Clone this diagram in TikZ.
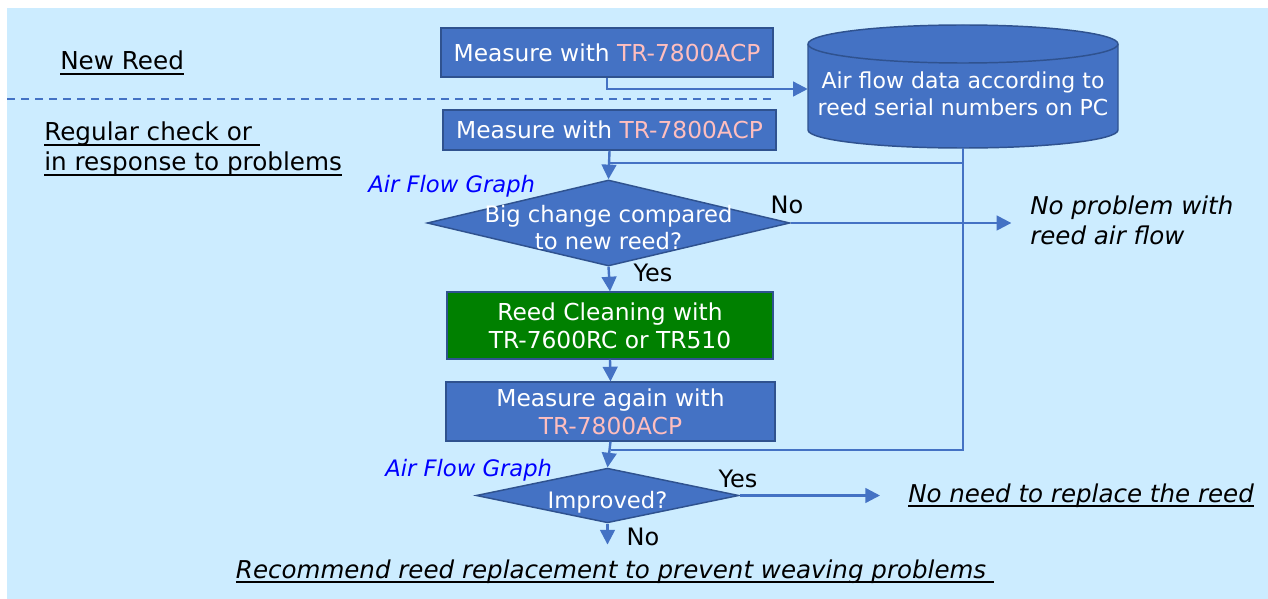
\documentclass[tikz,border=0pt]{standalone}
\usepackage{fontspec}
\setmainfont{DejaVu Sans}
\usepackage{xcolor}
\usetikzlibrary{arrows.meta,shapes.geometric}

\definecolor{bgblue}{RGB}{204,236,255}
\definecolor{boxblue}{RGB}{68,114,196}
\definecolor{edgeblue}{RGB}{47,82,143}
\definecolor{pinktext}{RGB}{255,190,190}
\definecolor{cleangreen}{RGB}{0,128,0}

\newsavebox{\ulsave}
\newcommand{\ulbox}[1]{\sbox{\ulsave}{#1}\rlap{\rule[-3.4pt]{\wd\ulsave}{1.2pt}}\usebox{\ulsave}}
\newcommand{\flattext}[1]{\makebox[0pt]{\smash{\raisebox{-0.6em}{\begin{tabular}{@{}c@{}}#1\end{tabular}}}}}

\tikzset{
  every node/.style={font=\fontsize{17.5}{21}\selectfont},
  stepbox/.style={draw=edgeblue, line width=1.1pt, fill=boxblue, text=white, align=center, inner sep=0pt},
  decision/.style={diamond, draw=edgeblue, line width=1.1pt, fill=boxblue, text=white, inner sep=0pt, font=\fontsize{17}{20}\selectfont},
  flow/.style={draw=boxblue, line width=1.8pt, -{Triangle[length=11pt,width=11pt]}},
  link/.style={draw=boxblue, line width=1.8pt},
  graphnote/.style={text=blue, font=\fontsize{17}{20}\selectfont\itshape, inner sep=0pt, anchor=base west},
  answer/.style={inner sep=0pt, font=\fontsize{18}{21}\selectfont},
  result/.style={font=\fontsize{18.4}{22.5}\selectfont\itshape, inner sep=0pt, align=left},
  sidenote/.style={font=\fontsize{18.5}{22.5}\selectfont, inner sep=0pt, align=left, anchor=base west}
}

\begin{document}
\begin{tikzpicture}[x=0.75pt,y=0.75pt,yscale=-1,xscale=1]

\useasboundingbox (0,0) rectangle (1268,599);

\fill[bgblue] (7,8) rectangle (1268,599);

\draw[boxblue, line width=1.1pt, dash pattern=on 6pt off 4.5pt] (7,99) -- (773,99);

\draw[draw=edgeblue, fill=boxblue, line width=1.1pt] (808,44) -- (808,130) arc[start angle=180, end angle=0, x radius=155, y radius=18] -- (1118,44) arc[start angle=0, end angle=-180, x radius=155, y radius=19] -- cycle;

\draw[draw=edgeblue, line width=1.1pt] (808,44) arc[start angle=180, end angle=0, x radius=155, y radius=19];

\node (newreed) at (60,70) [sidenote] {\ulbox{New Reed}};

\node (regular) at (44,171) [sidenote] {\ulbox{Regular check or\ }\\\ulbox{in response to problems}};

\node (m1) at (607,52.5) [stepbox, minimum width=249pt, minimum height=36.75pt] {Measure with \textcolor{pinktext}{TR-7800ACP}};

\node (db) at (963,89) [text=white, align=center, inner sep=0pt, minimum width=232.5pt, minimum height=88pt, font=\fontsize{16.5}{20}\selectfont] {\flattext{Air flow data according to\\reed serial numbers on PC}};

\node (m2) at (609.5,130) [stepbox, minimum width=250pt, minimum height=30pt] {Measure with \textcolor{pinktext}{TR-7800ACP}};

\node (d1) at (608.5,223) [decision, minimum width=272pt, minimum height=64.5pt] {\flattext{Big change compared\\to new reed?}};

\node (g1) at (368,193) [graphnote] {Air Flow Graph};

\node (clean) at (610,325.5) [stepbox, fill=cleangreen, minimum width=244.5pt, minimum height=50pt] {Reed Cleaning with\\TR-7600RC or TR510};

\node (m3) at (610.5,411.5) [stepbox, minimum width=247pt, minimum height=44pt] {Measure again with\\\textcolor{pinktext}{TR-7800ACP}};

\node (d2) at (607.5,495.5) [decision, minimum width=197pt, minimum height=41pt] {\flattext{Improved?}};

\node (g2) at (385,476) [graphnote] {Air Flow Graph};

\node (noproblem) at (1030,245) [result, anchor=base west] {No problem with\\reed air flow};

\node (noneed) at (908,502) [result, anchor=base west] {\ulbox{No need to replace the reed}};

\node (recommend) at (615,578) [result, anchor=base] {\ulbox{Recommend reed replacement to prevent weaving problems\ }};

\node (no1) at (787,205) [answer] {No};

\node (yes1) at (653,273) [answer] {Yes};

\node (yes2) at (738,479) [answer] {Yes};

\node (no2) at (643,537) [answer] {No};

\coordinate (j1) at (m2.south |- 0,163);

\coordinate (j2) at (m3.south |- 0,450);

\draw[flow] (m1.south) |- (db.west);

\draw[link] (db.south) |- (j2);

\draw[link] (db.south |- j1) -- (j1);

\draw[flow] (m2.south) -- (d1.north);

\draw[flow, shorten >=14pt] (d1.east) -- (d1.east -| noproblem.west);

\draw[flow] (d1.south) -- (clean.north);

\draw[flow] (clean.south) -- (m3.north);

\draw[flow] (m3.south) -- (d2.north);

\draw[flow, shorten >=21pt] (d2.east) -- (d2.east -| noneed.west);

\draw[flow] (d2.south) -- ++(0,21);

\end{tikzpicture}
\end{document}
